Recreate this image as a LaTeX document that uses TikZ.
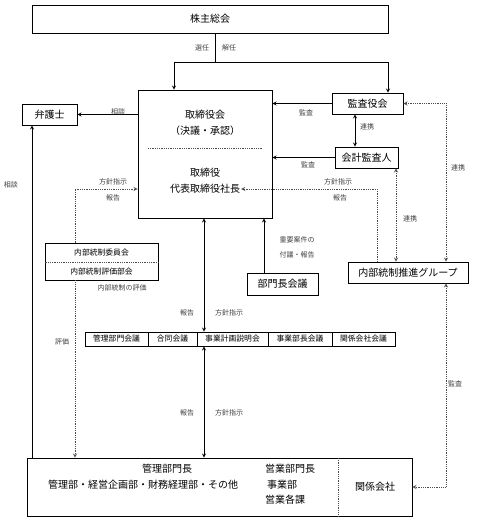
\documentclass[tikz,border=0pt]{standalone}
\usepackage{amsmath}
\usepackage{fontspec}
\setmainfont{Noto Sans CJK JP}
\usepackage{tikz}

\begin{document}
\begin{tikzpicture}[x=1pt, y=-1pt, >=stealth,
    box/.style = {draw, line width=0.9pt, inner sep=0pt, font=\fontsize{10}{12}\selectfont},
    cell/.style = {draw, line width=0.8pt, inner sep=0pt, minimum height=14, font=\fontsize{7.8}{9}\selectfont},
    txt/.style = {inner sep=1pt, font=\fontsize{10}{12}\selectfont},
    small/.style = {inner sep=1pt, font=\fontsize{7.8}{9}\selectfont},
    lbl/.style = {inner sep=0pt, font=\fontsize{7}{8}\selectfont, text=black!75},
    link/.style = {line width=0.8pt},
    dot/.style = {line width=0.8pt, densely dotted, black!70}]
    \useasboundingbox (0,0) rectangle (480,521);

    % boxes
    \node (soukai) at (210,19) [box, minimum width=356, minimum height=28] {株主総会};
    \node (board) at (205,154) [box, minimum width=134, minimum height=128] {};
    \node (bd1) at (205,115) [txt] {取締役会};
    \node (bd2) at (205,131) [txt] {（決議・承認）};
    \draw [dot] (148,148) -- (263,148);
    \node (ceo1) at (205,173) [txt] {取締役};
    \node (ceo2) at (205,189) [txt] {代表取締役社長};
    \node (bengo) at (49.5,114.5) [box, minimum width=55, minimum height=21] {弁護士};
    \node (kansa) at (367.5,103.5) [box, minimum width=71, minimum height=21] {監査役会};
    \node (kaikei) at (366.5,157.5) [box, minimum width=63, minimum height=21] {会計監査人};
    \node (group) at (408,272.5) [box, minimum width=120, minimum height=21] {内部統制推進グループ};
    \node (bucho) at (282.5,284) [box, minimum width=71, minimum height=22] {部門長会議};

    % committee
    \node (iinkai) at (101.5,261.5) [box, minimum width=113, minimum height=37] {};
    \draw [dot] (iinkai.west |- 0,262) -- (iinkai.east |- 0,262);
    \node (iin1) at (101.5,253) [small] {内部統制委員会};
    \node (iin2) at (101.5,271.5) [small] {内部統制評価部会};

    % meetings
    \node (m1) at (116.5,339) [cell, minimum width=63] {管理部門会議};
    \node (m2) at (172.5,339) [cell, minimum width=49] {合同会議};
    \node (m3) at (232.5,339) [cell, minimum width=71] {事業計画説明会};
    \node (m4) at (300,339) [cell, minimum width=64] {事業部長会議};
    \node (m5) at (363.5,339) [cell, minimum width=63] {関係会社会議};

    % departments
    \node (genba) at (219.5,487) [box, minimum width=385, minimum height=58] {};
    \draw [dot] (338,458) -- (338,516);
    \node (kanri1) at (167,469) [txt] {管理部門長};
    \node (kanri2) at (143,485) [txt] {管理部・経営企画部・財務経理部・その他};
    \node (eigyo1) at (264,469) [txt, anchor=west] {営業部門長};
    \node (eigyo2) at (266,485) [txt, anchor=west] {事業部};
    \node (eigyo3) at (264,500) [txt, anchor=west] {営業各課};
    \node (kankei) at (375,487) [txt] {関係会社};

    % shareholders
    \coordinate (split) at (215,62);
    \coordinate (bl) at (174,62);
    \coordinate (br) at (388,62);
    \draw [link] (split |- soukai.south) -- (split);
    \draw [link] (bl) -- (br);
    \draw [link, ->] (bl) -- (bl |- board.north);
    \draw [link, ->] (br) -- (br |- kansa.north);
    \node at (202,48) [lbl] {選任};
    \node at (229,48) [lbl] {解任};

    % lawyer
    \coordinate (bx) at (32,0);
    \draw [link, ->] (board.west |- bengo) -- (bengo.east);
    \node at (118,112) [lbl] {相談};
    \draw [link, ->] (bx |- genba.north) -- (bx |- bengo.south);
    \node at (11,185) [lbl] {相談};

    % audit
    \draw [link, ->] (kansa.west) -- (kansa.west -| board.east);
    \node at (306,113) [lbl] {監査};
    \draw [link, ->] (kaikei.west) -- (kaikei.west -| board.east);
    \node at (308,165) [lbl] {監査};
    \coordinate (ka) at (355,0);
    \draw [link, <->] (ka |- kansa.south) -- (ka |- kaikei.north);
    \node at (367,127) [lbl] {連携};

    % internal control group
    \coordinate (g1) at (377,0);
    \coordinate (g2) at (396,0);
    \coordinate (g3) at (446,0);
    \draw [dot, <->] (kansa.east) -| (g3 |- group.north);
    \node at (458,168) [lbl] {連携};
    \draw [dot, <-] (ceo2.east) -| (g1 |- group.north);
    \node at (338,182) [lbl] {方針指示};
    \node at (340,198) [lbl] {報告};
    \draw [dot, <->] (g2 |- kaikei.south) -- (g2 |- group.north);
    \node at (410,219) [lbl] {連携};
    \draw [dot, <->] (g3 |- group.south) |- (genba.east);
    \node at (455,384) [lbl] {監査};

    % committee links
    \coordinate (cx) at (75,0);
    \draw [dot, <-] (board.west |- ceo2) -| (cx |- iinkai.north);
    \node at (113,182) [lbl] {方針指示};
    \node at (113,198) [lbl] {報告};
    \draw [dot, ->] (cx |- iinkai.south) -- (cx |- genba.north);
    \node at (122,288) [lbl] {内部統制の評価};
    \node at (62,342) [lbl] {評価};

    % meetings links
    \coordinate (mx) at (204,0);
    \draw [link, <->] (mx |- board.south) -- (mx |- m3.north);
    \node at (187,313) [lbl] {報告};
    \node at (229,313) [lbl] {方針指示};
    \draw [link, <->] (mx |- m3.south) -- (mx |- genba.north);
    \node at (187,413) [lbl] {報告};
    \node at (229,413) [lbl] {方針指示};

    % division heads
    \coordinate (hx) at (264,0);
    \draw [link, ->] (hx |- bucho.north) -- (hx |- board.south);
    \node at (297,240) [lbl] {重要案件の};
    \node at (297,255) [lbl] {付議・報告};
\end{tikzpicture}
\end{document}
